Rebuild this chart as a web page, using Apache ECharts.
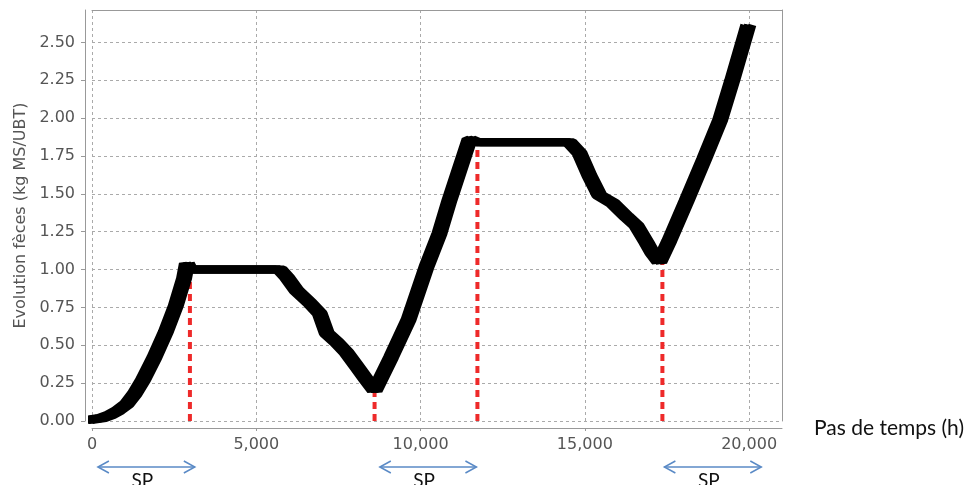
<!DOCTYPE html>
<html>
<head>
<meta charset="utf-8">
<script src="https://cdn.jsdelivr.net/npm/echarts@6/dist/echarts.min.js"></script>
<style>
  html, body { margin: 0; padding: 0; background: #fff; }
  #chart { width: 965px; height: 485px; }
</style>
</head>
<body>
<div id="chart"></div>
<script>
// courbe d'évolution des fèces
var timeSteps = [0, 300, 550, 800, 1050, 1300, 1550, 1900, 2250, 2550, 2800, 2888, 2980, 5715,
  5928, 6232, 6627, 6931, 7144, 7448, 7752, 8056, 8360, 8603,
  9100, 9637, 10184, 10579, 10883, 11491, 11704, 14531,
  14835, 15139, 15443, 15838, 16264, 16568, 16872, 17054, 17267,
  17571, 18088, 18632, 19121, 19486, 19942];
var fecesValues = [0.01, 0.02, 0.04, 0.07, 0.11, 0.18, 0.27, 0.42, 0.59, 0.76, 0.94, 1.04, 1.0, 1.0,
  0.95, 0.86, 0.78, 0.71, 0.58, 0.52, 0.45, 0.36, 0.27, 0.2,
  0.42, 0.67, 1.02, 1.24, 1.46, 1.86, 1.84, 1.84,
  1.77, 1.62, 1.49, 1.44, 1.35, 1.29, 1.18, 1.11, 1.05,
  1.19, 1.45, 1.73, 1.99, 2.25, 2.59];

// traits rouges verticaux
var markTimes = [2980, 8600, 11730, 17360];
var markValues = [1.0, 0.2, 1.84, 1.05];

// flèches SP (début / fin en heures)
var spStarts = [180, 8760, 17420];
var spEnds = [3130, 11700, 20370];
var spLabel = 'SP';

var xTicks = [0, 5000, 10000, 15000, 20000];
var yTicks = [0, 0.25, 0.5, 0.75, 1, 1.25, 1.5, 1.75, 2, 2.25, 2.5];

var chart = echarts.init(document.getElementById('chart'));

var axisGrey = '#999';
var labelStyle = { color: '#555', fontSize: 16, fontFamily: 'DejaVu Sans' };

var series = [];
markTimes.forEach(function (t, i) {
  series.push({
    type: 'line',
    data: [[t, 0], [t, markValues[i]]],
    symbol: 'none',
    silent: true,
    z: 2,
    lineStyle: { color: '#ee2a2a', width: 4, type: [7, 5] }
  });
});
// trait épais : deux passes décalées pour imiter les marqueurs rectangulaires
var curve = timeSteps.map(function (t, i) { return [t, fecesValues[i]]; });
[4, -4].forEach(function (dx) {
  series.push({
    type: 'line',
    data: curve,
    symbol: 'none',
    z: 3,
    lineStyle: {
      color: '#000', width: 8, cap: 'square', join: 'bevel',
      shadowColor: '#000', shadowBlur: 0, shadowOffsetX: dx, shadowOffsetY: 0
    }
  });
});

var option = {
  animation: false,
  grid: { left: 92, right: 183, top: 10, bottom: 64, containLabel: false, outerBoundsMode: 'none' },
  xAxis: [{
    type: 'value',
    min: 0,
    max: 21000,
    interval: 5000,
    offset: 7,
    name: 'Pas de temps (h)',
    nameLocation: 'end',
    nameGap: 32,
    nameTextStyle: { color: '#111', fontSize: 21, fontFamily: 'Lato' },
    axisLine: { show: true, onZero: false, lineStyle: { color: axisGrey } },
    axisTick: { show: true, length: 3, customValues: xTicks, lineStyle: { color: axisGrey } },
    axisLabel: Object.assign({
      margin: 9,
      customValues: xTicks,
      formatter: function (v) { return v.toLocaleString('en-US'); }
    }, labelStyle),
    splitLine: { show: true, lineStyle: { color: '#aaa', type: [3, 3] } }
  }, {
    type: 'value',
    position: 'top',
    min: 0,
    max: 21000,
    axisLine: { show: true, onZero: false, lineStyle: { color: axisGrey } },
    axisTick: { show: false },
    axisLabel: { show: false },
    splitLine: { show: false }
  }],
  yAxis: [{
    type: 'value',
    min: 0,
    max: 2.714,
    interval: 0.25,
    offset: 7,
    name: 'Evolution fèces (kg MS/UBT)',
    nameLocation: 'middle',
    nameGap: 52,
    nameTextStyle: { color: '#555', fontSize: 16, fontFamily: 'DejaVu Sans' },
    axisLine: { show: true, onZero: false, lineStyle: { color: axisGrey } },
    axisTick: { show: true, length: 4, customValues: yTicks, lineStyle: { color: axisGrey } },
    axisLabel: Object.assign({
      margin: 10,
      customValues: yTicks,
      formatter: function (v) { return v.toFixed(2); }
    }, labelStyle),
    splitLine: { show: true, lineStyle: { color: '#aaa', type: [3, 3] } }
  }, {
    type: 'value',
    position: 'right',
    min: 0,
    max: 2.714,
    axisLine: { show: true, onZero: false, lineStyle: { color: axisGrey } },
    axisTick: { show: false },
    axisLabel: { show: false },
    splitLine: { show: false }
  }],
  series: series
};

chart.setOption(option);

// flèches doubles SP sous l'axe
var arrowY = 467;
var arrowColor = '#5a8ac6';
var graphics = [];
spStarts.forEach(function (s, i) {
  var x1 = chart.convertToPixel({ xAxisIndex: 0 }, s);
  var x2 = chart.convertToPixel({ xAxisIndex: 0 }, spEnds[i]);
  var st = { stroke: arrowColor, lineWidth: 1.5, fill: null };
  graphics.push({ type: 'polyline', shape: { points: [[x1, arrowY], [x2, arrowY]] }, style: st, silent: true });
  graphics.push({ type: 'polyline', shape: { points: [[x1 + 11, arrowY - 6], [x1, arrowY], [x1 + 11, arrowY + 6]] }, style: st, silent: true });
  graphics.push({ type: 'polyline', shape: { points: [[x2 - 11, arrowY - 6], [x2, arrowY], [x2 - 11, arrowY + 6]] }, style: st, silent: true });
  graphics.push({
    type: 'text',
    x: (x1 + x2) / 2 - 4,
    y: arrowY + 4,
    silent: true,
    style: { text: spLabel, fill: '#111', font: '19px Lato', align: 'center', verticalAlign: 'top' }
  });
});
chart.setOption({ graphic: graphics });
</script>
</body>
</html>
